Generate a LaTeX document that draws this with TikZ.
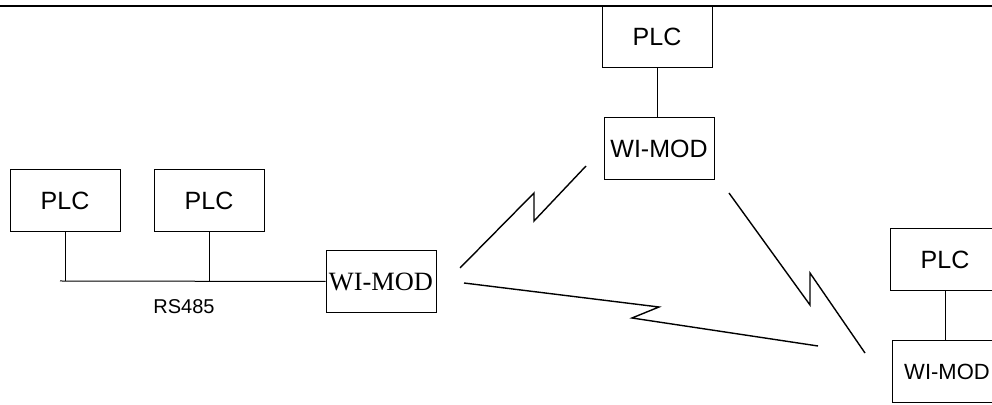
\documentclass[tikz,border=0pt]{standalone}
\usepackage{fontspec}
\setmainfont{Liberation Sans}
\newfontfamily\serifmod{Liberation Serif}
\begin{document}
\begin{tikzpicture}[x=0.5pt, y=-0.5pt,
        unit/.style={draw, line width=0.5pt, minimum width=55pt, minimum height=31pt,
            inner sep=0pt, font=\fontsize{12.5}{15}\selectfont},
        radio/.style={line width=0.7pt}]
        \clip (0,0) rectangle (992,405);
        % Draw the top rule
        \draw[line width=1.2pt] (0,6) -- (992,6);

        % Add the wired site
        \node[unit] (plcA) at (65,201) {PLC};
        \node[unit] (plcB) at (209,201) {PLC};
        \node[unit, font=\serifmod\fontsize{13.2}{15}\selectfont] (modA) at (381,281.5) {WI-MOD};
        \coordinate (busend) at (60,281);
        \draw[line width=0.5pt] (busend) -- (modA.west);
        \draw[line width=0.5pt] (plcA.south) -- (plcA.south |- busend);
        \draw[line width=0.5pt] (plcB.south) -- (plcB.south |- busend);
        \node[font=\fontsize{10}{12}\selectfont] (bus) at (184,307) {RS485};

        % Add the remote sites
        \node[unit] (plcC) at (657,37) {PLC};
        \node[unit] (modB) at (659,149) {WI-MOD};
        \draw[line width=0.5pt] (plcC.south) -- (plcC.south |- modB.north);
        \node[unit] (plcD) at (945,259.5) {PLC};
        \node[unit, font=\fontsize{11}{13}\selectfont] (modC) at (947,371.5) {WI-MOD};
        \draw[line width=0.5pt] (plcD.south) -- (plcD.south |- modC.north);

        % Add radio links
        \coordinate (ab1) at (460,268);
        \coordinate (ab2) at (534,193);
        \coordinate (ab3) at (534,221);
        \coordinate (ab4) at (586,166);
        \draw[radio] (ab1) -- (ab2) -- (ab3) -- (ab4);
        \coordinate (bc1) at (729,193);
        \coordinate (bc2) at (810,305);
        \coordinate (bc3) at (810,273);
        \coordinate (bc4) at (865,353);
        \draw[radio] (bc1) -- (bc2) -- (bc3) -- (bc4);
        \coordinate (ac1) at (464,283);
        \coordinate (ac2) at (659,307);
        \coordinate (ac3) at (632,318);
        \coordinate (ac4) at (818,346);
        \draw[radio] (ac1) -- (ac2) -- (ac3) -- (ac4);
    \end{tikzpicture}
\end{document}
